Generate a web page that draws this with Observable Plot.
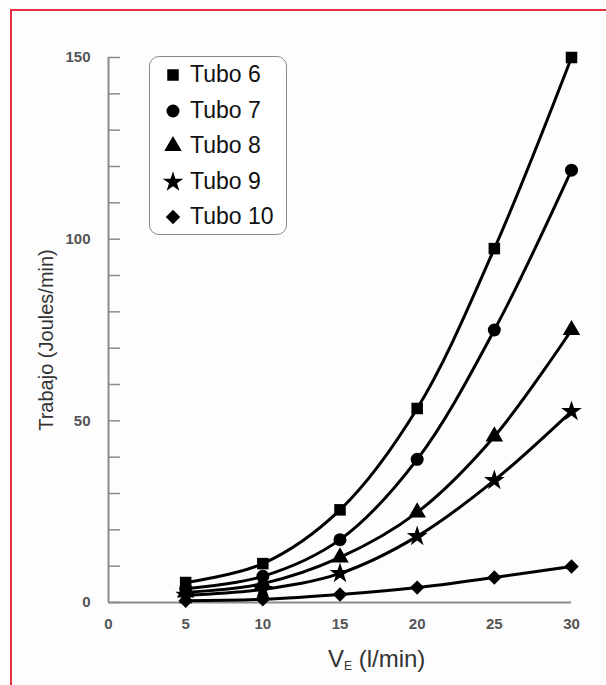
<!DOCTYPE html>
<html><head><meta charset="utf-8">
<script src="https://cdn.jsdelivr.net/npm/d3@7"></script>
<script src="https://cdn.jsdelivr.net/npm/@observablehq/plot@0.6"></script>
<style>
body{margin:0;background:#fff;font-family:"Liberation Sans",Arial,sans-serif;}
#wrap{position:relative;width:606px;height:685px;overflow:hidden;background:#fdfdfd;}
#frame{position:absolute;left:10px;top:9px;width:700px;height:700px;border-left:2px solid #e2323f;border-top:2px solid #e2323f;}
#chart{position:absolute;left:0;top:0;}
#legend{position:absolute;left:149px;top:56px;width:136px;height:177px;border:1.5px solid #8a8a8a;border-radius:10px;background:#fff;}
.row{position:absolute;left:0;height:36px;width:136px;}
.row svg{position:absolute;left:12px;top:7px;}
.row span{position:absolute;left:40px;top:4px;font-size:23px;color:#111;line-height:27px;}
#xtitle{position:absolute;left:328px;top:645px;font-size:24px;color:#333;white-space:nowrap;line-height:28px;}
#xtitle sub{font-size:12px;vertical-align:baseline;position:relative;top:3px;}
</style></head><body>
<div id="wrap"><div id="frame"></div><div id="chart"></div><div id="legend"></div><div id="xtitle">V<sub>E</sub> (l/min)</div></div>
<script>
const veValues = [5, 10, 15, 20, 25, 30];
const seriesNames = ["Tubo 6", "Tubo 7", "Tubo 8", "Tubo 9", "Tubo 10"];
const tubo6  = [5.5, 10.7, 25.5, 53.4, 97.4, 150];
const tubo7  = [3.8, 7.2, 17.3, 39.4, 75.0, 119];
const tubo8  = [2.8, 5.2, 12.4, 24.8, 45.7, 75.0];
const tubo9  = [2.0, 3.6, 8.0, 18.2, 33.6, 52.6];
const tubo10 = [0.5, 0.9, 2.2, 4.1, 6.9, 9.9];
const symbolNames = ["square", "circle", "triangle", "star", "diamond2"];
const xTicks = [0, 5, 10, 15, 20, 25, 30];
const yLabelTicks = [0, 50, 100, 150];
const yMinorTicks = [0, 10, 20, 30, 40, 50, 60, 70, 80, 90, 100, 110, 120, 130, 140, 150];
const yTitle = "Trabajo (Joules/min)";

const seriesValues = [tubo6, tubo7, tubo8, tubo9, tubo10];
const data = seriesNames.flatMap((name, i) =>
  veValues.map((ve, j) => ({tubo: name, ve, w: seriesValues[i][j]})));

const W = 606, H = 685, ML = 108, MR = 35, MT = 57, MB = 83;
const innerW = W - ML - MR;
const R = 6.5;

const chart = Plot.plot({
  width: W, height: H,
  marginLeft: ML, marginRight: MR, marginTop: MT, marginBottom: MB,
  x: {domain: [0, 30]},
  y: {domain: [0, 150]},
  symbol: {domain: seriesNames, range: symbolNames},
  style: {fontFamily: "Liberation Sans, Arial, sans-serif", background: "transparent"},
  marks: [
    Plot.ruleY([0], {stroke: "#8c8c8c", strokeWidth: 2}),
    Plot.ruleX([0], {stroke: "#8c8c8c", strokeWidth: 2}),
    Plot.tickY(yMinorTicks, {y: d => d, stroke: "#8c8c8c", strokeWidth: 1.5, insetRight: innerW - 12}),
    Plot.axisY({ticks: yLabelTicks, tickSize: 0, tickPadding: 18, fontSize: 15, fontWeight: "bold", fill: "#555", label: null}),
    Plot.axisX({ticks: xTicks, tickSize: 0, tickPadding: 16, fontSize: 15, fontWeight: "bold", fill: "#555", label: null}),
    Plot.line(data, {x: "ve", y: "w", z: "tubo", curve: "catmull-rom", stroke: "black", strokeWidth: 3}),
    Plot.dot(data, {x: "ve", y: "w", symbol: "tubo", fill: "black", stroke: "none", r: R}),
    Plot.text([yTitle], {text: d => d, frameAnchor: "left", textAnchor: "middle", dx: -62, dy: 10, rotate: -90, fontSize: 20, fill: "#333"})
  ]
});
document.getElementById("chart").appendChild(chart);

// legend
const symMap = {square: d3.symbolSquare, circle: d3.symbolCircle, triangle: d3.symbolTriangle, star: d3.symbolStar, diamond2: d3.symbolDiamond2};
const legend = d3.select("#legend");
seriesNames.forEach((name, i) => {
  const row = legend.append("div").attr("class", "row").style("top", (i * 35.6) + "px");
  const svg = row.append("svg").attr("width", 22).attr("height", 22);
  svg.append("path")
    .attr("transform", "translate(11,11)")
    .attr("d", d3.symbol(symMap[symbolNames[i]], R * R * Math.PI)())
    .attr("fill", "black");
  row.append("span").text(name);
});
</script>
</body></html>
